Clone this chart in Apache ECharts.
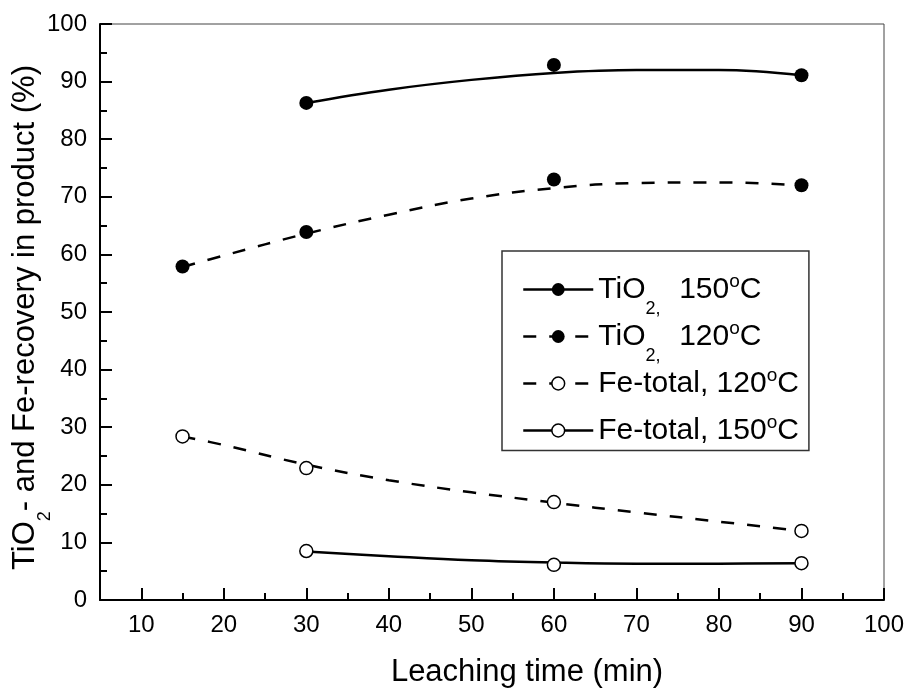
<!DOCTYPE html>
<html>
<head>
<meta charset="utf-8">
<script src="https://cdn.jsdelivr.net/npm/echarts@6/dist/echarts.min.js"></script>
<style>
html,body{margin:0;padding:0;background:#fff;}
#chart{width:909px;height:690px;}
</style>
</head>
<body>
<div id="chart"></div>
<script>
const FONT = "'Liberation Sans', Arial, Helvetica, sans-serif";

// series names and their legend labels (rich text)
const seriesNames = ['TiO2, 150°C', 'TiO2, 120°C', 'Fe-total, 120°C', 'Fe-total, 150°C'];
const legendLabels = ['TiO{sub|2,}  150{sup|o}C', 'TiO{sub|2,}  120{sup|o}C', 'Fe-total, 120{sup|o}C{ghost|\u200b}', 'Fe-total, 150{sup|o}C'];

// measured points
const ti150Time = [30, 60, 90];
const ti150Val = [86.3, 92.9, 91.1];
const ti120Time = [15, 30, 60, 90];
const ti120Val = [57.9, 63.9, 73.0, 72.0];
const fe120Time = [15, 30, 60, 90];
const fe120Val = [28.4, 22.9, 17.0, 12.0];
const fe150Time = [30, 60, 90];
const fe150Val = [8.5, 6.1, 6.4];

// fitted trend curves
const ti150FitTime = [30, 40, 50, 60, 70, 80, 90];
const ti150FitVal = [86.3, 88.6, 90.3, 91.5, 92.0, 92.0, 91.1];
const ti120FitTime = [15, 20, 30, 40, 50, 60, 70, 80, 90];
const ti120FitVal = [57.8, 59.8, 63.6, 66.9, 69.7, 71.5, 72.4, 72.5, 72.0];
const fe120FitTime = [15, 20, 30, 40, 50, 60, 70, 80, 90];
const fe120FitVal = [28.4, 26.9, 23.5, 20.8, 18.7, 16.9, 15.2, 13.6, 12.0];
const fe150FitTime = [30, 40, 50, 60, 70, 80, 90];
const fe150FitVal = [8.4, 7.6, 6.9, 6.5, 6.3, 6.3, 6.4];

// axis ticks
const xTicks = [10, 20, 30, 40, 50, 60, 70, 80, 90, 100];
const xMinorTicks = [15, 25, 35, 45, 55, 65, 75, 85, 95];
const yTicks = [0, 10, 20, 30, 40, 50, 60, 70, 80, 90, 100];

function zip(xs, ys) { return xs.map((x, i) => [x, ys[i]]); }

const DASH = [13, 13];
const filled = { color: '#000', borderWidth: 0, opacity: 1 };
const open = { color: '#fff', borderColor: '#000', borderWidth: 1.5, opacity: 1 };

const styles = [
  { item: filled, dash: 'solid', size: 14 },
  { item: filled, dash: DASH, size: 14 },
  { item: open, dash: DASH, size: 13 },
  { item: open, dash: 'solid', size: 13 }
];
const fitData = [zip(ti150FitTime, ti150FitVal), zip(ti120FitTime, ti120FitVal), zip(fe120FitTime, fe120FitVal), zip(fe150FitTime, fe150FitVal)];
const pointData = [zip(ti150Time, ti150Val), zip(ti120Time, ti120Val), zip(fe120Time, fe120Val), zip(fe150Time, fe150Val)];

const series = [];
seriesNames.forEach((n, i) => {
  series.push({
    type: 'line', name: n, data: fitData[i], smooth: 0.4,
    symbol: 'circle', showSymbol: false, silent: true, z: 2,
    lineStyle: { color: '#000', width: 2.5, type: styles[i].dash },
    itemStyle: styles[i].item
  });
});
seriesNames.forEach((n, i) => {
  series.push({
    type: 'scatter', name: n, data: pointData[i], symbol: 'circle',
    symbolSize: styles[i].size, z: 3, silent: true,
    itemStyle: styles[i].item
  });
});

const subStyle = { fontFamily: FONT, fontSize: 18, color: '#000', lineHeight: 16, padding: [19.5, 2, -19.5, 0] };
const chart = echarts.init(document.getElementById('chart'), null, { renderer: 'canvas' });
chart.setOption({
  animation: false,
  backgroundColor: '#fff',
  grid: {
    left: 100, right: 25, top: 24, bottom: 90, containLabel: false, outerBoundsMode: 'none',
    show: true, borderColor: '#444', borderWidth: 1, backgroundColor: 'transparent'
  },
  legend: {
    orient: 'vertical', left: 502, top: 251,
    itemWidth: 70, itemHeight: 16, itemGap: 1,
    padding: [21, 10, 5, 20],
    borderColor: '#333', borderWidth: 1.5, backgroundColor: '#fff',
    selectedMode: false,
    data: seriesNames.map((n, i) => ({
      name: n,
      itemStyle: styles[i].item,
      lineStyle: { color: '#000', width: 2.5, type: styles[i].dash }
    })),
    formatter: name => legendLabels[seriesNames.indexOf(name)],
    textStyle: {
      fontFamily: FONT, fontSize: 30, color: '#000', lineHeight: 30,
      rich: {
        sub: subStyle,
        ghost: { fontFamily: FONT, fontSize: 18, color: '#000', lineHeight: 16, padding: [19.5, 0, -19.5, 0] },
        sup: { fontFamily: FONT, fontSize: 19, color: '#000', lineHeight: 16, padding: [-8, 0, 8, 0] }
      }
    }
  },
  xAxis: [
    {
      type: 'value', min: 5, max: 100, position: 'bottom',
      name: 'Leaching time (min)', nameLocation: 'middle', nameGap: 57, nameMoveOverlap: false,
      nameTextStyle: { fontFamily: FONT, fontSize: 31, color: '#000', lineHeight: 31, padding: [0, 0, 0, 70] },
      axisLine: { show: true, onZero: false, lineStyle: { color: '#000', width: 2 } },
      axisTick: { show: true, inside: true, length: 12, lineStyle: { color: '#000', width: 2 }, customValues: xTicks },
      axisLabel: { show: true, fontFamily: FONT, fontSize: 24, color: '#000', margin: 13, customValues: xTicks },
      splitLine: { show: false }
    },
    {
      type: 'value', min: 5, max: 100, position: 'bottom', gridIndex: 0,
      axisLine: { show: false },
      axisTick: { show: true, inside: true, length: 7, lineStyle: { color: '#000', width: 2 }, customValues: xMinorTicks },
      axisLabel: { show: false },
      splitLine: { show: false }
    }
  ],
  yAxis: {
    type: 'value', min: 0, max: 100, interval: 10,
    name: 'TiO{sub|2}- and Fe-recovery in product (%)', nameLocation: 'middle', nameGap: 59, nameMoveOverlap: false,
    nameTextStyle: {
      fontFamily: FONT, fontSize: 31, color: '#000', lineHeight: 31, padding: [0, 11, 0, 0],
      rich: { sub: { fontFamily: FONT, fontSize: 18, color: '#000', lineHeight: 16, padding: [20, 0, -20, 0] } }
    },
    axisLine: { show: true, onZero: false, lineStyle: { color: '#000', width: 2 } },
    axisTick: { show: true, inside: true, length: 12, lineStyle: { color: '#000', width: 2 }, customValues: yTicks },
    minorTick: { show: true, splitNumber: 2, length: 7, lineStyle: { color: '#000', width: 2 } },
    axisLabel: { fontFamily: FONT, fontSize: 24, color: '#000', margin: 13, customValues: yTicks },
    splitLine: { show: false }
  },
  series: series
});
</script>
</body>
</html>
